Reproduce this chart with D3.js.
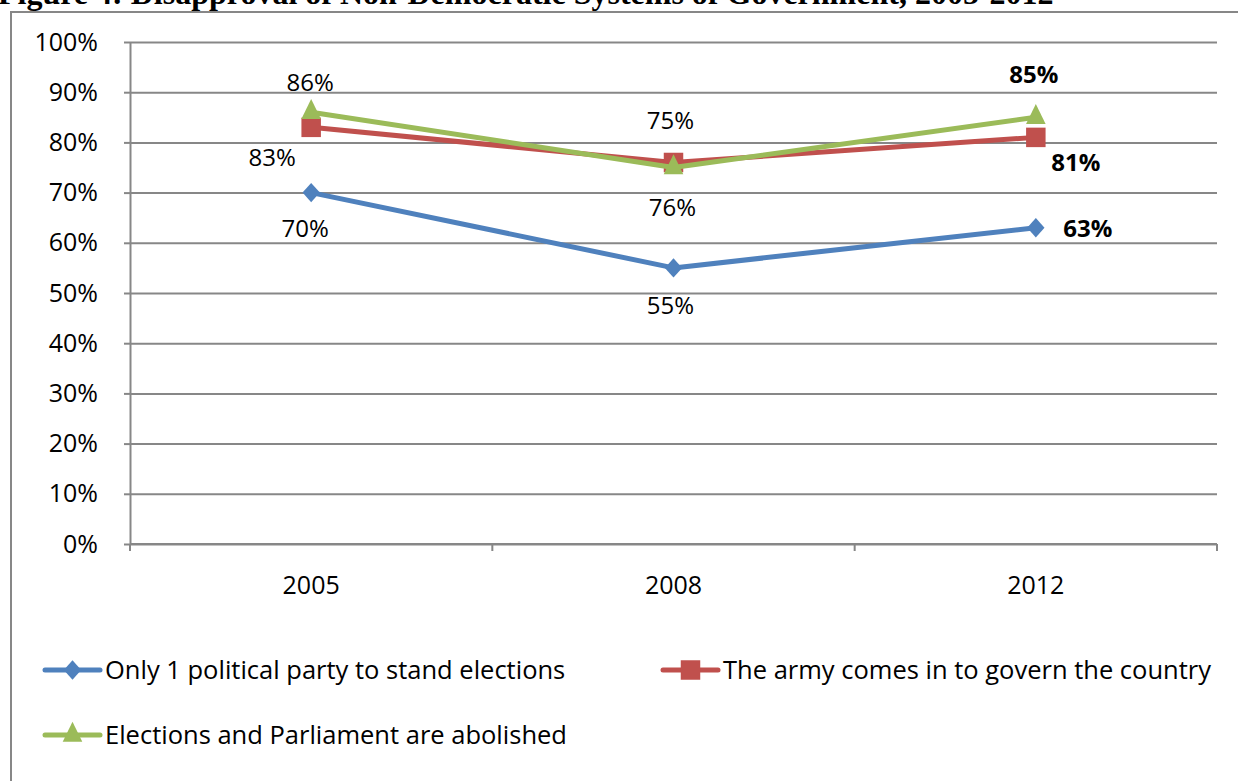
<!DOCTYPE html>
<html>
<head>
<meta charset="utf-8">
<script src="https://cdn.jsdelivr.net/npm/d3@7/dist/d3.min.js"></script>
<style>
  html, body { margin: 0; padding: 0; background: #fff; overflow: hidden; }
  svg { display: block; }
</style>
</head>
<body>
<svg id="chart" width="1238" height="781"></svg>
<script>
// Survey years and shares of respondents disapproving of each system
const years = ["2005", "2008", "2012"];
const seriesNames = [
  "Only 1 political party to stand elections",
  "The army comes in to govern the country",
  "Elections and Parliament are abolished"
];
const onePartyValues = [0.70, 0.55, 0.63];
const armyValues = [0.83, 0.76, 0.81];
const abolishedValues = [0.86, 0.75, 0.85];
const yTickValues = [0, 0.1, 0.2, 0.3, 0.4, 0.5, 0.6, 0.7, 0.8, 0.9, 1.0];
const titleText = "Figure 4: Disapproval of Non-Democratic Systems of Government, 2005-2012";

// Presentation settings for each series (diamond = rotated square)
const seriesStyle = [
  { color: "#4F81BD", symbol: d3.symbolSquare, markerArea: 150, rotate: 45, scaleX: 1, scaleY: 1.12 },
  { color: "#C0504D", symbol: d3.symbolSquare, markerArea: 380, rotate: 0, scaleX: 1, scaleY: 1 },
  { color: "#9BBB59", symbol: d3.symbolTriangle, markerArea: 230, rotate: 0, scaleX: 0.85, scaleY: 1 }
];
// Label placement relative to each point (dx, dy) and weight
const labelPlacement = [
  [{ dx: -6, dy: 36, bold: false }, { dx: -3, dy: 38, bold: false }, { dx: 52, dy: 1, bold: true }],
  [{ dx: -39, dy: 30, bold: false }, { dx: -1, dy: 45, bold: false }, { dx: 40, dy: 25, bold: true }],
  [{ dx: -1, dy: -30, bold: false }, { dx: -3, dy: -47, bold: false }, { dx: -2, dy: -43, bold: true }]
];

const series = [onePartyValues, armyValues, abolishedValues].map((vals, i) => ({
  name: seriesNames[i],
  style: seriesStyle[i],
  labels: labelPlacement[i],
  points: vals.map((v, j) => ({ year: years[j], value: v }))
}));

const svg = d3.select("#chart");
const font = "'Open Sans', 'Noto Sans', sans-serif";
const gridColor = "#878787";

// Title, partly cut by the top edge
svg.append("text")
  .attr("x", -2).attr("y", 4)
  .attr("font-family", "'Liberation Serif', 'Times New Roman', serif")
  .attr("font-weight", "bold")
  .attr("font-size", 32)
  .attr("fill", "#000")
  .text(titleText);

// Chart frame
svg.append("rect")
  .attr("x", 11).attr("y", 12)
  .attr("width", 1240).attr("height", 800)
  .attr("fill", "#fff")
  .attr("stroke", gridColor).attr("stroke-width", 2);

const plot = { left: 130, right: 1217, top: 42, bottom: 544 };

const x = d3.scaleBand().domain(years).range([plot.left, plot.right]);
const y = d3.scaleLinear().domain([0, 1]).range([plot.bottom, plot.top]);
const cx = d => x(d) + x.bandwidth() / 2;

// Horizontal gridlines
svg.append("g")
  .attr("transform", `translate(${plot.left},0)`)
  .call(d3.axisLeft(y).tickValues(yTickValues).tickSize(-(plot.right - plot.left)).tickFormat(""))
  .call(g => g.select(".domain").remove())
  .call(g => g.selectAll("line").attr("stroke", gridColor).attr("stroke-width", 2));

// Y axis with percentage labels
svg.append("g")
  .attr("transform", `translate(${plot.left},0)`)
  .call(d3.axisLeft(y).tickValues(yTickValues).tickSize(6).tickSizeOuter(0).tickPadding(26).tickFormat(d3.format(".0%")))
  .call(g => g.select(".domain").attr("stroke", gridColor).attr("stroke-width", 2))
  .call(g => g.selectAll("line").attr("stroke", gridColor).attr("stroke-width", 2))
  .call(g => g.selectAll("text").attr("font-family", font).attr("font-size", 25).attr("fill", "#000"));

// X axis: baseline, category boundary ticks and year labels
const xAxis = svg.append("g");
xAxis.append("line")
  .attr("x1", plot.left).attr("x2", plot.right)
  .attr("y1", y(0)).attr("y2", y(0))
  .attr("stroke", gridColor).attr("stroke-width", 2);
const boundaries = years.map(d => x(d)).concat([x(years[years.length - 1]) + x.bandwidth()]);
xAxis.selectAll("line.tick")
  .data(boundaries)
  .join("line")
  .attr("class", "tick")
  .attr("x1", d => d).attr("x2", d => d)
  .attr("y1", y(0)).attr("y2", y(0) + 7)
  .attr("stroke", gridColor).attr("stroke-width", 2);
xAxis.selectAll("text")
  .data(years)
  .join("text")
  .attr("x", cx)
  .attr("y", y(0) + 50)
  .attr("text-anchor", "middle")
  .attr("font-family", font).attr("font-size", 25)
  .text(d => d);

// Lines and markers
const line = d3.line().x(d => cx(d.year)).y(d => y(d.value));
const symbolPath = s => d3.symbol().type(s.symbol).size(s.markerArea)();
const markerTransform = (s, px, py) =>
  `translate(${px},${py}) scale(${s.scaleX},${s.scaleY}) rotate(${s.rotate})`;

series.forEach(s => {
  const g = svg.append("g");
  g.append("path")
    .datum(s.points)
    .attr("d", line)
    .attr("fill", "none")
    .attr("stroke", s.style.color)
    .attr("stroke-width", 5)
    .attr("stroke-linejoin", "round");
  g.selectAll("path.marker")
    .data(s.points)
    .join("path")
    .attr("class", "marker")
    .attr("d", symbolPath(s.style))
    .attr("transform", d => markerTransform(s.style, cx(d.year), y(d.value)))
    .attr("fill", s.style.color);
});

// Value labels
series.forEach(s => {
  svg.append("g").selectAll("text")
    .data(s.points)
    .join("text")
    .attr("x", (d, j) => cx(d.year) + s.labels[j].dx)
    .attr("y", (d, j) => y(d.value) + s.labels[j].dy)
    .attr("dy", "0.35em")
    .attr("text-anchor", "middle")
    .attr("font-family", font).attr("font-size", 24)
    .attr("font-weight", (d, j) => s.labels[j].bold ? "bold" : "normal")
    .text(d => d3.format(".0%")(d.value));
});

// Legend
const legendItems = [
  { x: 45, y: 670 },
  { x: 663, y: 670 },
  { x: 45, y: 735 }
];
const legend = svg.append("g");
series.forEach((s, i) => {
  const pos = legendItems[i];
  const g = legend.append("g").attr("transform", `translate(${pos.x},${pos.y})`);
  g.append("line")
    .attr("x1", 0).attr("x2", 55)
    .attr("stroke", s.style.color).attr("stroke-width", 5).attr("stroke-linecap", "round");
  g.append("path")
    .attr("d", symbolPath(s.style))
    .attr("transform", markerTransform(s.style, 27.5, 0))
    .attr("fill", s.style.color);
  g.append("text")
    .attr("x", 60).attr("y", 0).attr("dy", "0.35em")
    .attr("font-family", font).attr("font-size", 25.5)
    .text(s.name);
});
</script>
</body>
</html>
